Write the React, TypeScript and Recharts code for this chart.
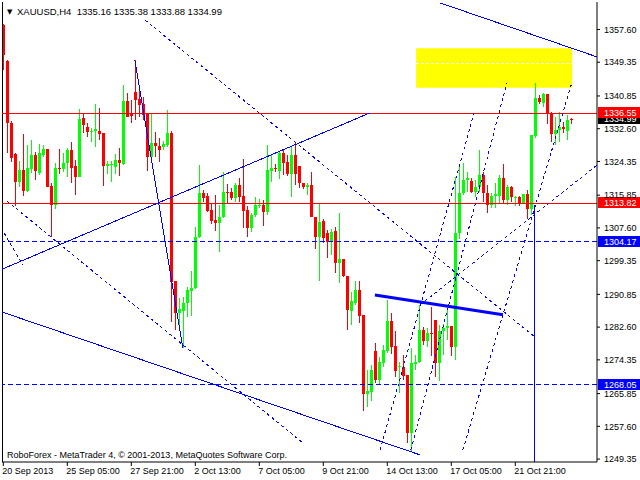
import React from "react";
import {Bar, ComposedChart, ReferenceArea, ReferenceLine, XAxis, YAxis} from "recharts";

// XAUUSD H4 candles, oldest first
const opens = [
    1358.7, 1349.7, 1334.1, 1326.2, 1319.2, 1322.2, 1317.0, 1322.4, 1326.0, 1321.5,
    1326.0, 1327.4, 1318.2, 1313.4, 1322.8, 1322.4, 1323.9, 1327.2, 1323.2, 1320.5,
    1335.3, 1333.1, 1331.9, 1332.0, 1332.0, 1331.5, 1323.3, 1323.4, 1323.0, 1324.7,
    1323.7, 1339.6, 1336.5, 1341.9, 1340.1, 1338.8, 1336.5, 1325.4, 1329.1, 1328.3,
    1327.9, 1328.5, 1331.6, 1294.3, 1286.1, 1286.7, 1288.6, 1291.6, 1292.4, 1305.2,
    1316.3, 1315.6, 1312.2, 1309.6, 1308.9, 1310.3, 1316.7, 1316.7, 1315.2, 1318.4,
    1315.6, 1312.1, 1307.5, 1310.9, 1313.1, 1313.4, 1311.5, 1321.9, 1322.6, 1321.9,
    1326.6, 1324.3, 1321.2, 1326.0, 1323.2, 1319.0, 1317.8, 1318.4, 1310.3, 1305.4,
    1309.4, 1306.4, 1304.1, 1306.9, 1298.7, 1299.7, 1295.5, 1286.6, 1288.7, 1292.0,
    1285.7, 1265.7, 1266.3, 1276.6, 1269.4, 1273.6, 1276.6, 1284.2, 1277.9, 1272.5,
    1272.5, 1270.5, 1256.0, 1273.2, 1273.9, 1281.9, 1279.0, 1281.2, 1284.4, 1273.5,
    1281.5, 1282.4, 1282.9, 1277.5, 1306.2, 1316.5, 1319.8, 1319.3, 1316.7, 1317.8,
    1320.9, 1316.5, 1313.4, 1315.6, 1315.6, 1320.1, 1314.6, 1317.8, 1315.1, 1315.5,
    1314.0, 1316.1, 1312.3, 1330.7, 1340.3, 1339.2, 1341.4, 1336.6, 1331.3, 1332.3,
    1333.0, 1332.1, 1335.16,
];
const highs = [
    1358.9, 1349.9, 1334.6, 1326.4, 1324.5, 1331.3, 1328.5, 1329.8, 1326.8, 1328.7,
    1328.5, 1327.6, 1318.8, 1323.9, 1327.4, 1326.4, 1327.7, 1329.3, 1324.7, 1337.5,
    1336.3, 1334.1, 1332.9, 1338.8, 1337.7, 1331.5, 1324.5, 1324.5, 1326.2, 1327.7,
    1343.6, 1341.5, 1339.8, 1349.9, 1342.8, 1340.7, 1336.5, 1336.6, 1331.8, 1330.2,
    1329.5, 1337.2, 1332.0, 1294.3, 1290.0, 1290.3, 1292.8, 1296.8, 1307.9, 1323.5,
    1317.2, 1316.5, 1313.6, 1315.9, 1313.4, 1321.7, 1318.7, 1317.6, 1319.0, 1320.1,
    1324.9, 1313.0, 1311.3, 1315.5, 1314.8, 1314.6, 1328.5, 1326.0, 1323.7, 1327.1,
    1327.2, 1326.0, 1328.2, 1329.3, 1323.2, 1319.0, 1319.0, 1321.7, 1310.3, 1313.8,
    1309.8, 1307.1, 1307.3, 1307.9, 1311.4, 1299.7, 1295.5, 1291.4, 1294.1, 1294.1,
    1285.7, 1271.8, 1273.0, 1278.7, 1275.1, 1278.1, 1289.4, 1286.2, 1281.5, 1273.9,
    1275.6, 1270.5, 1277.3, 1275.6, 1288.2, 1282.7, 1282.3, 1287.6, 1284.4, 1283.1,
    1283.4, 1286.9, 1282.9, 1320.5, 1323.0, 1323.9, 1321.7, 1320.1, 1319.8, 1327.2,
    1321.7, 1318.4, 1316.3, 1319.0, 1320.9, 1323.6, 1318.4, 1318.1, 1315.6, 1315.6,
    1316.1, 1317.1, 1331.0, 1344.0, 1341.1, 1341.7, 1341.4, 1336.9, 1335.5, 1336.7,
    1334.4, 1336.1, 1335.38,
];
const lows = [
    1347.4, 1326.5, 1324.3, 1313.0, 1317.8, 1315.7, 1316.7, 1321.5, 1319.8, 1320.9,
    1325.4, 1317.8, 1305.2, 1312.3, 1321.2, 1321.8, 1320.5, 1318.8, 1315.9, 1320.4,
    1331.4, 1330.4, 1329.3, 1328.1, 1329.8, 1318.2, 1321.1, 1319.2, 1321.2, 1320.8,
    1323.5, 1335.6, 1334.1, 1334.8, 1335.6, 1334.8, 1322.0, 1324.3, 1325.4, 1324.3,
    1327.3, 1327.9, 1283.9, 1281.8, 1283.0, 1277.3, 1285.2, 1285.4, 1292.2, 1305.0,
    1314.2, 1311.7, 1308.6, 1306.9, 1301.6, 1310.0, 1313.8, 1314.6, 1314.2, 1314.2,
    1307.6, 1305.2, 1306.6, 1310.4, 1312.5, 1308.0, 1310.9, 1319.2, 1321.8, 1319.9,
    1320.9, 1320.7, 1315.3, 1318.4, 1317.6, 1317.4, 1315.9, 1310.3, 1302.2, 1294.3,
    1303.7, 1300.0, 1300.8, 1296.3, 1293.6, 1295.2, 1281.8, 1283.1, 1288.2, 1283.7,
    1261.5, 1262.4, 1264.1, 1268.4, 1268.3, 1272.5, 1276.2, 1275.8, 1270.1, 1265.9,
    1269.4, 1253.3, 1251.5, 1271.8, 1273.5, 1278.1, 1277.7, 1275.2, 1270.1, 1268.9,
    1275.6, 1279.3, 1275.4, 1274.3, 1304.7, 1315.9, 1316.7, 1316.3, 1315.5, 1316.7,
    1314.2, 1311.3, 1312.5, 1312.5, 1313.6, 1313.6, 1313.4, 1314.2, 1313.0, 1313.0,
    1313.6, 1309.8, 1310.9, 1330.2, 1338.8, 1338.0, 1333.8, 1329.3, 1328.5, 1329.3,
    1331.6, 1329.8, 1333.88,
];
const closes = [
    1351.2, 1334.1, 1325.1, 1319.2, 1322.2, 1317.0, 1322.6, 1326.0, 1322.0, 1326.4,
    1327.4, 1318.0, 1313.4, 1322.6, 1322.4, 1324.0, 1327.2, 1322.6, 1320.5, 1335.0,
    1333.6, 1331.8, 1332.1, 1332.5, 1331.3, 1323.3, 1323.6, 1323.6, 1324.7, 1323.9,
    1339.6, 1335.6, 1335.8, 1339.8, 1338.6, 1336.1, 1325.5, 1329.1, 1328.3, 1327.2,
    1328.7, 1331.6, 1294.0, 1286.1, 1287.1, 1288.6, 1292.0, 1292.4, 1305.4, 1316.5,
    1315.1, 1311.9, 1309.4, 1308.9, 1310.3, 1316.7, 1316.3, 1315.2, 1318.4, 1315.5,
    1311.9, 1307.5, 1310.8, 1313.4, 1313.4, 1311.5, 1322.2, 1322.6, 1322.4, 1326.6,
    1324.0, 1321.2, 1326.0, 1321.2, 1318.8, 1317.8, 1318.4, 1310.3, 1305.4, 1309.2,
    1305.0, 1304.1, 1306.6, 1298.7, 1299.7, 1295.5, 1286.9, 1289.1, 1292.0, 1285.4,
    1265.7, 1266.6, 1271.8, 1269.4, 1273.9, 1276.8, 1284.2, 1277.7, 1271.6, 1272.8,
    1270.3, 1256.0, 1273.6, 1273.9, 1281.9, 1279.0, 1281.2, 1280.9, 1273.5, 1281.5,
    1282.4, 1282.9, 1277.5, 1306.2, 1316.5, 1319.7, 1320.1, 1316.7, 1317.8, 1320.9,
    1316.5, 1313.4, 1315.6, 1316.1, 1320.1, 1314.6, 1317.8, 1315.3, 1315.5, 1314.0,
    1316.1, 1312.3, 1331.0, 1340.3, 1339.4, 1341.4, 1336.6, 1331.3, 1332.3, 1333.0,
    1332.5, 1334.9, 1334.99,
];

const priceTicks = [1357.60, 1349.35, 1340.85, 1332.60, 1324.35, 1315.85, 1307.60,
    1299.35, 1290.85, 1282.60, 1274.35, 1265.85, 1257.60, 1249.35];
const timeTickIdx = [0, 16, 32, 48, 64, 80, 96, 112, 128];
const timeLabels = ["20 Sep 2013", "25 Sep 05:00", "27 Sep 21:00", "2 Oct 13:00", "7 Oct 05:00",
    "9 Oct 21:00", "14 Oct 13:00", "17 Oct 05:00", "21 Oct 21:00"];

// horizontal levels
const redLevels = [1336.55, 1313.82];
const blueLevels = [1304.17, 1268.05];

// target zone [fromBar, toBar, lowPrice, highPrice]
const zone = [103.2, 142.2, 1342.9, 1352.9];
const zoneMid = 1349.1;

// trend lines as [bar, price, bar, price]
const solidLines = [
    [109.2, 1364.3, 148.4, 1350.7],
    [-0.3, 1297.2, 91.7, 1336.6],
    [32.9, 1349.9, 44.9, 1277.3],
    [-0.3, 1286.4, 104.2, 1250.4],
    [132.9, 1313.4, 132.9, 1248.7],
];
const boldLines = [
    [92.9, 1290.7, 124.9, 1285.7],
];
const dashedLines = [
    [0.9, 1314.4, 74.9, 1253.4],
    [0.2, 1306.3, 4.9, 1298.3],
    [35.4, 1360.0, 132.9, 1280.1],
    [101.9, 1251.7, 125.9, 1344.2],
    [114.9, 1251.7, 142.2, 1344.4],
    [94.2, 1251.6, 117.7, 1336.6],
    [104.2, 1288.2, 148.4, 1323.4],
];

const FONT = "Liberation Sans, Arial, sans-serif";
const X_MIN = -0.325;
const X_MAX = 148.425;
const Y_MIN = 1248.61;
const Y_MAX = 1364.53;

const data = opens.map((o, i) => ({
    i, o, h: highs[i], l: lows[i], c: closes[i], range: [lows[i], highs[i]],
}));

const Candle = (props: any) => {
    const {x, y, width, height, payload} = props;
    const top = Math.min(y, y + height);
    const bot = Math.max(y, y + height);
    const span = payload.h - payload.l;
    const k = span > 0 ? (bot - top) / span : 0;
    const py = (p: number) => top + (payload.h - p) * k;
    const color = payload.c >= payload.o ? "#00ff00" : "#ff0000";
    const cx = Math.round(x + width / 2) + 0.5;
    const yo = py(payload.o);
    const yc = py(payload.c);
    return (
        <g shapeRendering="crispEdges">
            <line x1={cx} x2={cx} y1={top} y2={bot} stroke={color} strokeWidth={1}/>
            <rect x={cx - 1.5} y={Math.min(yo, yc)} width={3} height={Math.max(1, Math.abs(yc - yo))} fill={color}/>
        </g>
    );
};

const TimeTick = (props: any) => {
    const {x, y, payload} = props;
    return (
        <text x={x - 1} y={y} dy="0.71em" fontSize={9} fontFamily={FONT} fill="#000" textAnchor="start">
            {timeLabels[timeTickIdx.indexOf(payload.value)]}
        </text>
    );
};

const priceTag = (bg: string, value: number) => (props: any) => {
    const {viewBox} = props;
    const x0 = viewBox.x + viewBox.width;
    return (
        <g>
            <rect x={x0 + 1} y={Math.round(viewBox.y) - 6} width={43} height={11} fill={bg}/>
            <text x={x0 + 7} y={viewBox.y} dy="0.355em" fontSize={9} fontFamily={FONT} fill="#fff">
                {value.toFixed(2)}
            </text>
        </g>
    );
};

const seg = (l: number[]) => [{x: l[0], y: l[1]}, {x: l[2], y: l[3]}] as any;

export default function App() {
    const last = opens.length - 1;
    const header = `XAUUSD,H4  ${opens[last].toFixed(2)} ${highs[last].toFixed(2)} ${lows[last].toFixed(2)} ${closes[last].toFixed(2)}`;
    return (
        <div style={{position: "absolute", left: 0, top: 0, width: 640, height: 480, background: "#fff"}}>
            <ComposedChart width={640} height={480} data={data}
                           margin={{top: 2, right: 0, bottom: 0, left: 2}}>
                <XAxis dataKey="i" type="number" domain={[X_MIN, X_MAX]} allowDataOverflow
                       ticks={timeTickIdx} interval={0} tick={<TimeTick/>}
                       height={18} tickSize={4} tickMargin={2} stroke="#000"/>
                <YAxis orientation="right" type="number" domain={[Y_MIN, Y_MAX]} allowDataOverflow
                       ticks={priceTicks} interval={0} width={43} tickSize={3} tickMargin={4}
                       tickFormatter={(v: number) => v.toFixed(2)} stroke="#000"
                       tick={{fontSize: 9, fontFamily: FONT, fill: "#000"}}/>
                <ReferenceArea x1={zone[0]} x2={zone[1]} y1={zone[2]} y2={zone[3]}
                               fill="#ffff00" fillOpacity={1} stroke="none"/>
                <ReferenceLine segment={seg([zone[0], zoneMid, zone[1], zoneMid])}
                               stroke="#fff" strokeDasharray="3 2" shapeRendering="crispEdges"/>
                <ReferenceLine x={X_MIN} stroke="#000" shapeRendering="crispEdges"/>
                <Bar dataKey="range" barSize={3} shape={<Candle/>} isAnimationActive={false}/>
                <ReferenceLine y={closes[last]} stroke="none" label={priceTag("#000", closes[last])}/>
                {redLevels.map(v => (
                    <ReferenceLine key={v} y={v} stroke="#ff0000" shapeRendering="crispEdges"
                                   label={priceTag("#ff0000", v)}/>
                ))}
                {blueLevels.map(v => (
                    <ReferenceLine key={v} y={v} stroke="#0000ff" strokeDasharray="5 3"
                                   shapeRendering="crispEdges" label={priceTag("#0000ff", v)}/>
                ))}
                {solidLines.map((l, n) => (
                    <ReferenceLine key={"s" + n} segment={seg(l)} stroke="#0000ff" shapeRendering="crispEdges"/>
                ))}
                {boldLines.map((l, n) => (
                    <ReferenceLine key={"b" + n} segment={seg(l)} stroke="#0000ff" strokeWidth={3}/>
                ))}
                {dashedLines.map((l, n) => (
                    <ReferenceLine key={"d" + n} segment={seg(l)} stroke="#0000ff" strokeDasharray="3 3"
                                   shapeRendering="crispEdges"/>
                ))}
            </ComposedChart>
            <svg width={640} height={480} style={{position: "absolute", left: 0, top: 0, pointerEvents: "none"}}>
                <text x={7} y={14} fontSize={7} fontFamily="DejaVu Sans" fill="#000">▼</text>
                <text x={17} y={15} fontSize={9.5} fontFamily={FONT} fill="#000" style={{whiteSpace: "pre"}}>{header}</text>
                <text x={7} y={458} fontSize={9} fontFamily={FONT} fill="#000">
                    RoboForex - MetaTrader 4, © 2001-2013, MetaQuotes Software Corp.
                </text>
            </svg>
        </div>
    );
}
